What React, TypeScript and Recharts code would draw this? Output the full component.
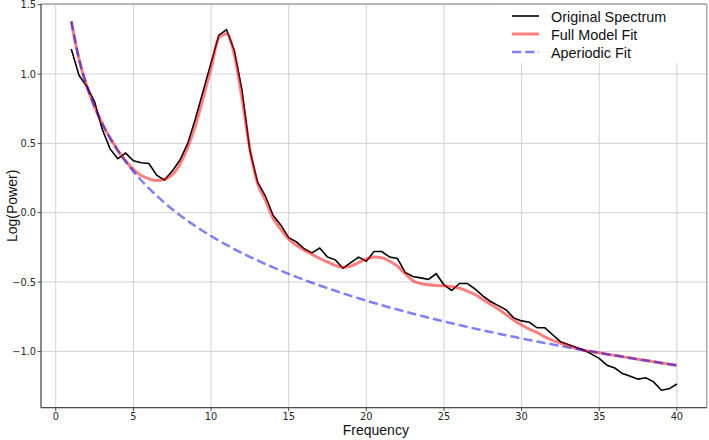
import React from 'react';
import { LineChart, Line, XAxis, YAxis, CartesianGrid, ReferenceLine, Legend } from 'recharts';

// Frequency bins (Hz)
const freqs = [
  1, 1.5, 2, 2.5, 3, 3.5, 4, 4.5, 5, 5.5, 6, 6.5, 7, 7.5,
  8, 8.5, 9, 9.5, 10, 10.5, 11, 11.5, 12, 12.5, 13, 13.5, 14, 14.5,
  15, 15.5, 16, 16.5, 17, 17.5, 18, 18.5, 19, 19.5, 20, 20.5, 21, 21.5,
  22, 22.5, 23, 23.5, 24, 24.5, 25, 25.5, 26, 26.5, 27, 27.5, 28, 28.5,
  29, 29.5, 30, 30.5, 31, 31.5, 32, 32.5, 33, 33.5, 34, 34.5, 35, 35.5,
  36, 36.5, 37, 37.5, 38, 38.5, 39, 39.5, 40,
];

// Measured log power spectrum
const spectrum = [
  1.18, 0.99, 0.91, 0.8, 0.6, 0.46, 0.39, 0.43, 0.375, 0.36, 0.355, 0.27, 0.235, 0.3,
  0.38, 0.5, 0.68, 0.88, 1.08, 1.28, 1.32, 1.17, 0.88, 0.45, 0.22, 0.12, -0.02, -0.09,
  -0.18, -0.21, -0.26, -0.29, -0.255, -0.32, -0.34, -0.4, -0.36, -0.32, -0.35, -0.28, -0.28, -0.32,
  -0.33, -0.43, -0.46, -0.47, -0.48, -0.44, -0.52, -0.56, -0.51, -0.51, -0.55, -0.6, -0.64, -0.67,
  -0.7, -0.76, -0.78, -0.79, -0.83, -0.83, -0.88, -0.93, -0.95, -0.97, -0.99, -1.02, -1.05, -1.1,
  -1.12, -1.16, -1.18, -1.2, -1.19, -1.22, -1.28, -1.27, -1.235,
];

// Full model (aperiodic + periodic components)
const modelFit = [
  1.38, 1.107, 0.914, 0.764, 0.641, 0.538, 0.45, 0.375, 0.312, 0.268, 0.245, 0.232, 0.24, 0.272,
  0.35, 0.47, 0.63, 0.83, 1.04, 1.26, 1.29, 1.14, 0.82, 0.46, 0.21, 0.09, -0.04, -0.12,
  -0.19, -0.235, -0.27, -0.3, -0.33, -0.355, -0.38, -0.395, -0.385, -0.36, -0.335, -0.32, -0.325, -0.35,
  -0.385, -0.44, -0.49, -0.51, -0.52, -0.525, -0.527, -0.533, -0.545, -0.565, -0.59, -0.625, -0.66, -0.695,
  -0.735, -0.775, -0.81, -0.84, -0.865, -0.895, -0.92, -0.94, -0.96, -0.978, -0.992, -1.001, -1.01, -1.02,
  -1.029, -1.038, -1.048, -1.057, -1.066, -1.074, -1.083, -1.092, -1.1,
];

// Aperiodic (1/f) component
const aperiodicFit = [
  1.38, 1.107, 0.914, 0.764, 0.641, 0.538, 0.448, 0.369, 0.298, 0.234, 0.175, 0.122, 0.072, 0.025,
  -0.018, -0.059, -0.097, -0.134, -0.168, -0.201, -0.232, -0.262, -0.291, -0.318, -0.344, -0.37, -0.394, -0.418,
  -0.441, -0.463, -0.484, -0.505, -0.525, -0.544, -0.563, -0.582, -0.6, -0.617, -0.634, -0.651, -0.667, -0.683,
  -0.698, -0.713, -0.728, -0.742, -0.757, -0.77, -0.784, -0.797, -0.81, -0.823, -0.836, -0.848, -0.86, -0.872,
  -0.884, -0.895, -0.907, -0.918, -0.929, -0.939, -0.95, -0.96, -0.971, -0.981, -0.991, -1.001, -1.01, -1.02,
  -1.029, -1.038, -1.048, -1.057, -1.066, -1.074, -1.083, -1.092, -1.1,
];

const xTicks = [0, 5, 10, 15, 20, 25, 30, 35, 40];
const yTicks = [-1, -0.5, 0, 0.5, 1, 1.5];

const X_MIN = -0.95;
const X_MAX = 41.92;
const Y_MIN = -1.406;
const Y_MAX = 1.505;

const data = freqs.map((f, i) => ({
  freq: f,
  spectrum: spectrum[i],
  model: modelFit[i],
  aperiodic: aperiodicFit[i],
}));

const SANS = '"Liberation Sans", Arial, Helvetica, sans-serif';
const TICK_FONT = '"DejaVu Sans", sans-serif';

const legendRows = [
  { label: 'Original Spectrum', stroke: '#000000', width: 1.6, opacity: 1, dash: undefined as string | undefined },
  { label: 'Full Model Fit', stroke: '#ff0000', width: 3, opacity: 0.5, dash: undefined as string | undefined },
  { label: 'Aperiodic Fit', stroke: '#0000ff', width: 2.5, opacity: 0.5, dash: '9.25 4' },
];

function FitLegend() {
  return (
    <svg width={209} height={58} style={{ display: 'block' }}>
      {legendRows.map((r, i) => {
        const cy = 11 + 18 * i;
        return (
          <g key={r.label}>
            <line
              x1={17}
              x2={44}
              y1={cy}
              y2={cy}
              stroke={r.stroke}
              strokeWidth={r.width}
              strokeOpacity={r.opacity}
              strokeDasharray={r.dash}
            />
            <text x={56} y={cy + 0.5} dominantBaseline="central" fontFamily={SANS} fontSize={14.4} fill="#111">
              {r.label}
            </text>
          </g>
        );
      })}
    </svg>
  );
}

function YTitle(props: any) {
  const vb = props && props.viewBox ? props.viewBox : { x: 0, y: 4, width: 41, height: 403.7 };
  const cy = vb.y + vb.height / 2;
  return (
    <text
      transform={`translate(12, ${cy}) rotate(-90)`}
      textAnchor="middle"
      dominantBaseline="central"
      fontFamily={SANS}
      fontSize={14}
      fill="#111"
    >
      Log(Power)
    </text>
  );
}

const fmtY = (v: number) => v.toFixed(1).replace('-', '\u2212');

export default function App() {
  return (
    <div style={{ position: 'absolute', left: 0, top: 0 }}>
      <LineChart width={709} height={440} data={data} margin={{ top: 4, right: 2.3, bottom: 0, left: 0 }}>
        <CartesianGrid stroke="#d2d2d2" strokeWidth={1} />
        <XAxis
          dataKey="freq"
          type="number"
          domain={[X_MIN, X_MAX]}
          ticks={xTicks}
          interval={0}
          allowDataOverflow
          height={32.3}
          tickSize={3.5}
          tickMargin={2}
          axisLine={{ stroke: '#4a4a4a', strokeWidth: 1.2 }}
          tickLine={{ stroke: '#4a4a4a' }}
          tick={{ fontSize: 9.8, fill: '#262626', fontFamily: TICK_FONT }}
          label={{ value: 'Frequency', position: 'insideBottom', offset: 5, dx: 2, fontSize: 14, fontFamily: SANS, fill: '#111' }}
        />
        <YAxis
          type="number"
          domain={[Y_MIN, Y_MAX]}
          ticks={yTicks}
          interval={0}
          allowDataOverflow
          width={41}
          tickSize={3.5}
          tickMargin={1.5}
          tickFormatter={fmtY}
          axisLine={{ stroke: '#4a4a4a', strokeWidth: 1.2 }}
          tickLine={{ stroke: '#4a4a4a' }}
          tick={{ fontSize: 9.8, fill: '#262626', fontFamily: TICK_FONT }}
          label={{ content: YTitle }}
        />
        <ReferenceLine y={Y_MAX} stroke="#a8a8a8" strokeWidth={1.4} />
        <ReferenceLine x={X_MAX} stroke="#a8a8a8" strokeWidth={1.4} />
        <Line
          type="linear"
          dataKey="spectrum"
          stroke="#000000"
          strokeWidth={1.6}
          dot={false}
          activeDot={false}
          isAnimationActive={false}
        />
        <Line
          type="monotone"
          dataKey="model"
          stroke="#ff0000"
          strokeOpacity={0.5}
          strokeWidth={3}
          dot={false}
          activeDot={false}
          isAnimationActive={false}
        />
        <Line
          type="monotone"
          dataKey="aperiodic"
          stroke="#0000ff"
          strokeOpacity={0.5}
          strokeWidth={2.5}
          strokeDasharray="9.25 4"
          dot={false}
          activeDot={false}
          isAnimationActive={false}
        />
        <Legend
          layout="horizontal"
          verticalAlign="middle"
          align="center"
          content={() => <FitLegend />}
          wrapperStyle={{ top: 5, left: 495, width: 209, height: 58, background: '#ffffff' }}
        />
      </LineChart>
    </div>
  );
}
